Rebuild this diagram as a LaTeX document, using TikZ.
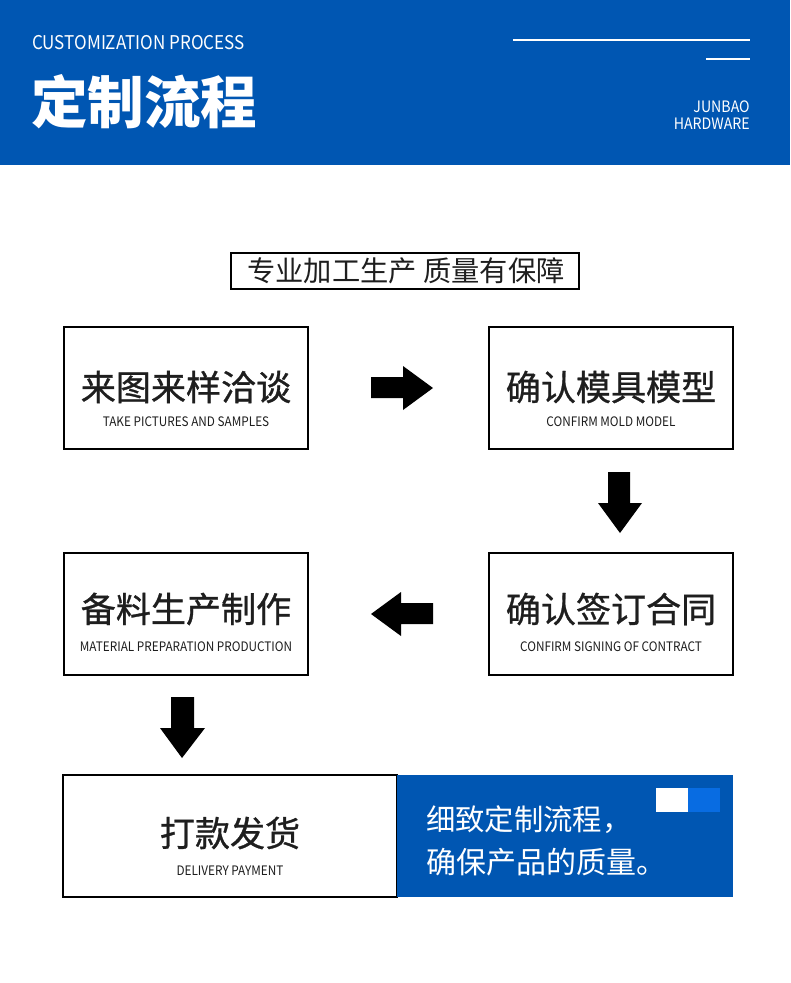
\documentclass[tikz,border=0pt]{standalone}
\usepackage{fontspec}
\setmainfont{Noto Sans CJK SC}
\newfontfamily\jbcond[FakeStretch=0.9]{Noto Sans CJK SC}
\newfontfamily\jbmed[FakeBold=0.9]{Noto Sans CJK SC}
\usepackage{tikz}

\definecolor{jbblue}{RGB}{0,86,178}
\definecolor{jblight}{RGB}{8,108,226}
\definecolor{jbtext}{RGB}{30,30,30}

\tikzset{
  stepbox/.style={draw=black,line width=1pt,fill=white},
  blockarrow/.style={fill=black},
  zhbig/.style={inner sep=0,text=jbtext,font=\jbmed\fontsize{26.3}{30}\selectfont},
  ensmall/.style={inner sep=0,text=jbtext,font=\jbcond\fontsize{9.8}{11}\selectfont},
}

\begin{document}
\begin{tikzpicture}[x=0.75pt,y=0.75pt,yscale=-1,xscale=1]
\useasboundingbox (0,0) rectangle (790,983);
%Shape: Rectangle
\fill [color=jbblue] (0,0) rectangle (790,165) ;
%Straight Lines
\draw [color=white,line width=2.2pt] (513,40) -- (750,40) ;
%Straight Lines
\draw [color=white,line width=2.2pt] (706,59) -- (750,59) ;
% Text Node
\node [anchor=base west,inner sep=0,text=white,font=\jbcond\fontsize{14.2}{16}\selectfont] (engtitle) at (32,49) {CUSTOMIZATION PROCESS};
% Text Node
\node [anchor=west,inner sep=0,text=white,font=\fontsize{42.4}{48}\selectfont\bfseries] (zhtitle) at (31,102) {定制流程};
% Text Node
\node [anchor=base east,inner sep=0,text=white,font=\jbcond\fontsize{11.8}{14}\selectfont] (brand) at (750,112) {JUNBAO};
% Text Node
\node [anchor=base east,inner sep=0,text=white,font=\jbcond\fontsize{11.8}{14}\selectfont] (brandb) at (750,129) {HARDWARE};

%Shape: Rectangle
\draw [line width=1pt] (231,253) rectangle (579,289) ;
% Text Node
\node [inner sep=0,text=jbtext,font=\fontsize{21.2}{24}\selectfont] (slogan) at (406,271) {专业加工生产 质量有保障};

%Shape: Rectangle
\draw [stepbox] (64,327) rectangle (308,449) ;
\node [zhbig] (takezh) at (186,387) {来图来样洽谈};
\node [ensmall] (takeen) at (186,422) {TAKE PICTURES AND SAMPLES};
%Shape: Rectangle
\draw [stepbox] (489,327) rectangle (733,449) ;
\node [zhbig] (moldzh) at (611,387) {确认模具模型};
\node [ensmall] (molden) at (611,422) {CONFIRM MOLD MODEL};
%Shape: Rectangle
\draw [stepbox] (64,553) rectangle (308,675) ;
\node [zhbig] (materialzh) at (186,609) {备料生产制作};
\node [ensmall] (materialen) at (186,647) {MATERIAL PREPARATION PRODUCTION};
%Shape: Rectangle
\draw [stepbox] (489,553) rectangle (733,675) ;
\node [zhbig] (contractzh) at (611,609) {确认签订合同};
\node [ensmall] (contracten) at (611,647) {CONFIRM SIGNING OF CONTRACT};
%Shape: Rectangle
\draw [stepbox] (63,775) rectangle (397,897) ;
\node [zhbig] (deliveryzh) at (230,833) {打款发货};
\node [ensmall] (deliveryen) at (230,871) {DELIVERY PAYMENT};
%Shape: Rectangle
\fill [color=jbblue] (397,775) rectangle (733,897) ;
\fill [color=white] (656,788) rectangle (688,812) ;
\fill [color=jblight] (688,788) rectangle (720,812) ;
% Text Node
\node [anchor=west,inner sep=0,text=white,font=\fontsize{22}{26}\selectfont] (notea) at (426,820) {细致定制流程，};
\node [anchor=west,inner sep=0,text=white,font=\fontsize{22.5}{26}\selectfont] (noteb) at (426,862) {确保产品的质量。};

%Shape: Right Arrow
\fill [blockarrow] (371,377) -- (403,377) -- (403,366) -- (433,388) -- (403,410) -- (403,398) -- (371,398) -- cycle ;
%Shape: Down Arrow
\fill [blockarrow] (608,472) -- (630,472) -- (630,503) -- (642,503) -- (620,533) -- (598,503) -- (608,503) -- cycle ;
%Shape: Left Arrow
\fill [blockarrow] (433,603) -- (401,603) -- (401,592) -- (371,614) -- (401,636) -- (401,624) -- (433,624) -- cycle ;
%Shape: Down Arrow
\fill [blockarrow] (171,697) -- (194,697) -- (194,728) -- (205,728) -- (182,758) -- (160,728) -- (171,728) -- cycle ;
\end{tikzpicture}
\end{document}
